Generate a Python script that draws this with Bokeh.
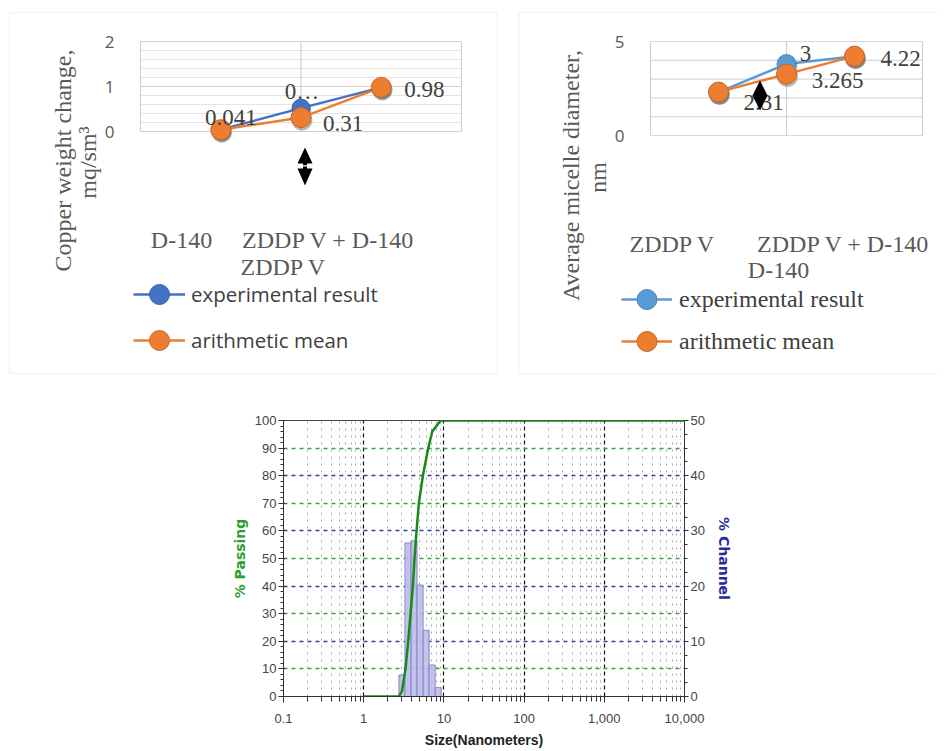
import numpy as np
from math import pi
from bokeh.plotting import figure
from bokeh.models import (Range1d, FixedTicker, Label, Legend, LegendItem, BoxAnnotation,
                          PolyAnnotation, Grid, LinearAxis, NumeralTickFormatter, Spacer)
from bokeh.layouts import column, row
from bokeh.core.properties import value
from bokeh.embed import file_html
from bokeh.resources import INLINE

# ------------------------------------------------------------------ data
series_names = ["experimental result", "arithmetic mean"]

cu_categories = ["D-140", "ZDDP V", "ZDDP V + D-140"]
cu_x = [1, 2, 3]
cu_experimental = [0.041, 0.52, 0.98]
cu_mean = [0.041, 0.31, 0.98]
cu_label_text = ["0.041", "0…", "0.31", "0.98"]
cu_y_ticks = [0, 1, 2]
cu_y_minor = [0.2, 0.4, 0.6, 0.8, 1.2, 1.4, 1.6, 1.8]
cu_title = ["Copper weight change,", "mq/sm³"]

mic_categories = ["ZDDP V", "D-140", "ZDDP V + D-140"]
mic_x = [1, 2, 3]
mic_experimental = [2.31, 3.8, 4.22]
mic_mean = [2.31, 3.265, 4.22]
mic_label_text = ["2.31", "3", "3.265", "4.22"]
mic_y_ticks = [0, 5]
mic_y_grid = [0, 1, 2, 3, 4, 5]
mic_title = ["Average micelle diameter,", "nm"]

box_x = [0, 4]
box_vlines = [0, 2, 4]

size_edges = [2.75, 3.27, 3.89, 4.62, 5.50, 6.54, 7.78, 9.25]
channel_pct = [3.9, 27.8, 28.2, 20.2, 12.0, 5.7, 1.6]
curve_size = [1, 2.75, 3.0, 3.32, 3.59, 3.84, 4.10, 4.30, 4.56, 4.87, 5.47, 6.38, 7.16, 9.1, 10000]
curve_passing = [0, 0, 2, 10, 20, 30, 40, 50, 60, 70, 80, 90, 96, 100, 100]
size_ticks = [0.1, 1, 10, 100, 1000, 10000]
size_minor = [0.2, 0.3, 0.4, 0.5, 0.6, 0.7, 0.8, 0.9, 2, 3, 4, 5, 6, 7, 8, 9,
              20, 30, 40, 50, 60, 70, 80, 90, 200, 300, 400, 500, 600, 700, 800, 900,
              2000, 3000, 4000, 5000, 6000, 7000, 8000, 9000]
passing_ticks = [0, 10, 20, 30, 40, 50, 60, 70, 80, 90, 100]
passing_minor = [2, 4, 6, 8, 12, 14, 16, 18, 22, 24, 26, 28, 32, 34, 36, 38, 42, 44, 46, 48,
                 52, 54, 56, 58, 62, 64, 66, 68, 72, 74, 76, 78, 82, 84, 86, 88, 92, 94, 96, 98]
channel_ticks = [0, 10, 20, 30, 40, 50]
channel_minor = [2.5, 5, 7.5, 12.5, 15, 17.5, 22.5, 25, 27.5, 32.5, 35, 37.5, 42.5, 45, 47.5]
green_lines = [10, 30, 50, 70, 90]
blue_lines = [20, 40, 60, 80]

# ------------------------------------------------------------------ styles
SERIF = "Liberation Serif"
SANS = "Open Sans"
GREY_TXT = "#595959"
DARK_TXT = "#404040"
ORANGE = "#ED7D31"


def top_chart(W, H, ox, oy, box_px0, per_x, y0_py, per_y):
    # the frame covers the whole panel; px/py are page pixel positions
    fx = lambda px: (px - box_px0) / per_x
    fy = lambda py: (y0_py - py) / per_y
    p = figure(width=W, height=H, x_range=Range1d(fx(ox), fx(ox + W)),
               y_range=Range1d(fy(oy + H), fy(oy)), output_backend="svg",
               toolbar_location=None, title=None, x_axis_location=None,
               min_border=0)
    p.outline_line_color = None
    p.background_fill_color = "white"
    p.border_fill_color = "white"
    for g in p.grid:
        g.visible = False
    ax = p.yaxis[0]
    ax.fixed_location = 0
    ax.axis_line_color = None
    ax.major_tick_line_color = None
    ax.minor_tick_line_color = None
    ax.major_label_text_font = SANS
    ax.major_label_text_font_size = "17px"
    ax.major_label_text_color = GREY_TXT
    ax.major_label_standoff = 20
    return p, fx, fy


def add_label(p, fx, fy, px, py, text, size="24px", font=SERIF, color=GREY_TXT, angle=0):
    p.add_layout(Label(x=fx(px), y=fy(py), text=text, text_align="center",
                       text_baseline="middle", text_font=font, text_font_size=size,
                       text_color=color, angle=angle))


def add_legend_row(p, renderers, label, gx, cy, oy_bottom, gw, font, size, standoff, ox):
    gh = 50
    p.add_layout(Legend(items=[LegendItem(label=label, renderers=renderers)],
                        location=(gx - ox, oy_bottom - (cy + gh / 2)),
                        glyph_width=gw, glyph_height=gh, padding=0, margin=0, spacing=0,
                        label_standoff=standoff, border_line_color=None,
                        background_fill_alpha=0, label_text_font=font,
                        label_text_font_size=size, label_text_color=DARK_TXT))


def add_shadow(p, xs, ys, per_x, per_y, size):
    # soft drop shadow 1px right / 2.5px below each marker
    p.scatter([v + 1.0 / per_x for v in xs], [v - 2.5 / per_y for v in ys], size=size,
              fill_color="#000000", fill_alpha=0.28, line_color=None)


# ------------------------------------------------------------------ chart 1 (copper)
p1, fx1, fy1 = top_chart(490, 370, 8, 8, 140, 80.25, 131, 45.0)
p1.yaxis[0].ticker = FixedTicker(ticks=cu_y_ticks)
p1.segment(x0=box_x[0], x1=box_x[1], y0=cu_y_minor, y1=cu_y_minor,
           line_color="#e4e4e4", line_width=1.2)
p1.segment(x0=box_x[0], x1=box_x[1], y0=cu_y_ticks, y1=cu_y_ticks,
           line_color="#d0d0d0", line_width=1.2)
p1.segment(x0=box_vlines, y0=[cu_y_ticks[0]] * 3, x1=box_vlines, y1=[cu_y_ticks[-1]] * 3,
           line_color="#d0d0d0", line_width=1.2)

bl1 = p1.line(cu_x, cu_experimental, line_color="#4472C4", line_width=2.5)
add_shadow(p1, cu_x, cu_experimental, 80.25, 45.0, 19)
bs1 = p1.scatter(cu_x, cu_experimental, size=18, fill_color="#4472C4", line_color="#3a62aa")
ol1 = p1.line(cu_x, cu_mean, line_color=ORANGE, line_width=2.5)
add_shadow(p1, cu_x, cu_mean, 80.25, 45.0, 21)
os1 = p1.scatter(cu_x, cu_mean, size=20, fill_color=ORANGE, line_color="#c9651f")

p1.text(x=[cu_x[0], cu_x[1], cu_x[1], cu_x[2]],
        y=[cu_mean[0], cu_experimental[1], cu_mean[1], cu_mean[2]],
        text=cu_label_text, x_offset=[10, 1, 42, 43], y_offset=[-12, -17, 6, 2],
        text_align="center", text_baseline="middle", text_font=value(SERIF),
        text_font_size="23px", text_color=DARK_TXT)

add_label(p1, fx1, fy1, 181, 239, cu_categories[0])
add_label(p1, fx1, fy1, 283, 266, cu_categories[1])
add_label(p1, fx1, fy1, 328, 239, cu_categories[2])
add_label(p1, fx1, fy1, 62, 160, cu_title[0], angle=pi / 2)
add_label(p1, fx1, fy1, 87, 162, cu_title[1], angle=pi / 2)

p1.add_layout(PolyAnnotation(
    xs=[fx1(v) for v in [304.5, 312, 306.5, 306.5, 302.5, 302.5, 297]],
    ys=[fy1(v) for v in [147, 163, 163, 164.8, 164.8, 163, 163]],
    fill_color="black", fill_alpha=1, line_color=None))
p1.add_layout(PolyAnnotation(
    xs=[fx1(v) for v in [304.5, 312, 306.5, 306.5, 302.5, 302.5, 297]],
    ys=[fy1(v) for v in [185, 168, 168, 166, 166, 168, 168]],
    fill_color="black", fill_alpha=1, line_color=None))

add_legend_row(p1, [bl1, bs1], series_names[0], 133, 294, 378, 52, SANS, "20.5px", 6, 8)
add_legend_row(p1, [ol1, os1], series_names[1], 133, 340, 378, 52, SANS, "20.5px", 6, 8)
p1.add_layout(BoxAnnotation(left=fx1(8.75), right=fx1(497), top=fy1(12), bottom=fy1(373),
                            fill_alpha=0, line_color="#d9d9d9", line_width=1.5))

# ------------------------------------------------------------------ chart 2 (micelle)
p2, fx2, fy2 = top_chart(439, 370, 498, 8, 650, 68.0, 135, 18.8)
p2.yaxis[0].ticker = FixedTicker(ticks=mic_y_ticks)
p2.segment(x0=box_x[0], x1=box_x[1], y0=mic_y_grid, y1=mic_y_grid,
           line_color="#d9d9d9", line_width=1.2)
p2.segment(x0=box_vlines, y0=[mic_y_grid[0]] * 3, x1=box_vlines, y1=[mic_y_grid[-1]] * 3,
           line_color="#d0d0d0", line_width=1.2)

bl2 = p2.line(mic_x, mic_experimental, line_color="#5B9BD5", line_width=2.5)
add_shadow(p2, mic_x, mic_experimental, 68.0, 18.8, 20)
bs2 = p2.scatter(mic_x, mic_experimental, size=19, fill_color="#5B9BD5", line_color="#4a86bd")
ol2 = p2.line(mic_x, mic_mean, line_color=ORANGE, line_width=2.5)
add_shadow(p2, mic_x, mic_mean, 68.0, 18.8, 21)
os2 = p2.scatter(mic_x, mic_mean, size=20, fill_color=ORANGE, line_color="#c9651f")

p2.text(x=[mic_x[0], mic_x[1], mic_x[1], mic_x[2]],
        y=[mic_mean[0], mic_experimental[1], mic_mean[1], mic_mean[2]],
        text=mic_label_text, x_offset=[45, 19, 51, 46], y_offset=[10, -11, 6, 2],
        text_align="center", text_baseline="middle", text_font=value(SERIF),
        text_font_size="23px", text_color=DARK_TXT)

add_label(p2, fx2, fy2, 672, 243, mic_categories[0])
add_label(p2, fx2, fy2, 778, 269, mic_categories[1])
add_label(p2, fx2, fy2, 843, 243, mic_categories[2])
add_label(p2, fx2, fy2, 570, 175, mic_title[0], angle=pi / 2)
add_label(p2, fx2, fy2, 597, 177, mic_title[1], angle=pi / 2)

p2.add_layout(PolyAnnotation(
    xs=[fx2(v) for v in [759.5, 767, 759.5, 752]],
    ys=[fy2(v) for v in [80, 95, 110, 95]],
    fill_color="black", fill_alpha=1, line_color=None))

add_legend_row(p2, [bl2, bs2], series_names[0], 621, 299, 378, 51, SERIF, "24px", 7, 498)
add_legend_row(p2, [ol2, os2], series_names[1], 621, 341, 378, 51, SERIF, "24px", 7, 498)
p2.add_layout(BoxAnnotation(left=fx2(518), right=fx2(960), top=fy2(12), bottom=fy2(373),
                            fill_alpha=0, line_color="#d9d9d9", line_width=1.5))

# ------------------------------------------------------------------ chart 3 (size distribution)
p3 = figure(width=520, height=373, x_axis_type="log", x_range=Range1d(size_ticks[0], size_ticks[-1]),
            y_range=Range1d(passing_ticks[0], passing_ticks[-1]), output_backend="svg",
            toolbar_location=None, title=None,
            min_border_left=58, min_border_right=61, min_border_top=42, min_border_bottom=55)
p3.extra_y_ranges = {"ch": Range1d(channel_ticks[0], channel_ticks[-1])}
p3.outline_line_color = "#444444"
p3.background_fill_color = "white"

xt = FixedTicker(ticks=size_ticks, minor_ticks=size_minor)
xa = p3.xaxis[0]
xa.ticker = xt
xa.formatter = NumeralTickFormatter(format="0,0.[0]")
xa.axis_label = "Size(Nanometers)"
xa.axis_label_text_font = "Liberation Sans"
xa.axis_label_text_font_style = "bold"
xa.axis_label_text_font_size = "14px"
xa.axis_label_text_color = "#222222"
xa.axis_label_standoff = 6
xa.major_tick_out = 6
xa.major_tick_in = 0
xa.minor_tick_out = 5
xa.minor_tick_in = 0
xa.major_label_standoff = 11

ya = p3.yaxis[0]
ya.ticker = FixedTicker(ticks=passing_ticks, minor_ticks=passing_minor)
ya.axis_label = "% Passing"
ya.axis_label_text_color = "#2e9e2e"
ya.axis_label_standoff = 4
ya.major_tick_out = 5
ya.major_tick_in = 2
ya.minor_tick_out = 3
ya.minor_tick_in = 0
ya.major_label_standoff = 2

ra = LinearAxis(y_range_name="ch", ticker=FixedTicker(ticks=channel_ticks, minor_ticks=channel_minor))
ra.axis_label = "% Channel"
ra.axis_label_text_color = "#2a2a9a"
ra.axis_label_standoff = 8
ra.major_tick_out = 4
ra.major_tick_in = 0
ra.minor_tick_out = 3
ra.minor_tick_in = 0
ra.major_label_standoff = 2
p3.add_layout(ra, "right")

for a in (xa, ya, ra):
    a.axis_line_color = "#333333"
    a.major_tick_line_color = "#333333"
    a.minor_tick_line_color = "#333333"
    a.major_label_text_font = "Liberation Sans"
    a.major_label_text_font_size = "13px"
    a.major_label_text_color = "#444444"
for a in (ya, ra):
    a.axis_label_text_font = "DejaVu Sans"
    a.axis_label_text_font_style = "bold"
    a.axis_label_text_font_size = "14px"

p3.xgrid.ticker = xt
p3.xgrid.grid_line_color = "#111111"
p3.xgrid.grid_line_dash = "4 3"
p3.xgrid.grid_line_width = 1.2
p3.xgrid.minor_grid_line_color = "#a8a8a8"
p3.xgrid.minor_grid_line_dash = "2 5"
p3.ygrid.ticker = FixedTicker(ticks=blue_lines)
p3.ygrid.grid_line_color = "#3a3aaa"
p3.ygrid.grid_line_dash = "4 4"
p3.ygrid.grid_line_width = 1.3
g2 = Grid(dimension=1, ticker=FixedTicker(ticks=green_lines), grid_line_color="#3f9f3f",
          grid_line_dash="4 4", grid_line_width=1.3)
p3.add_layout(g2)

p3.quad(left=size_edges[:-1], right=size_edges[1:], bottom=0, top=channel_pct,
        y_range_name="ch", fill_color="#c0c0ea", fill_alpha=0.9, line_color="#8686cc",
        line_width=1, hatch_pattern="vertical_line", hatch_color="#a0a0d8",
        hatch_scale=4, hatch_weight=0.6, hatch_alpha=0.7)
p3.line(curve_size, curve_passing, line_color="#188a18", line_width=2.5)

layout = column(Spacer(width=10, height=8),
                row(Spacer(width=8, height=370), p1, p2),
                row(Spacer(width=225, height=373), p3))

open("out.html", "w").write(file_html(layout, INLINE))
